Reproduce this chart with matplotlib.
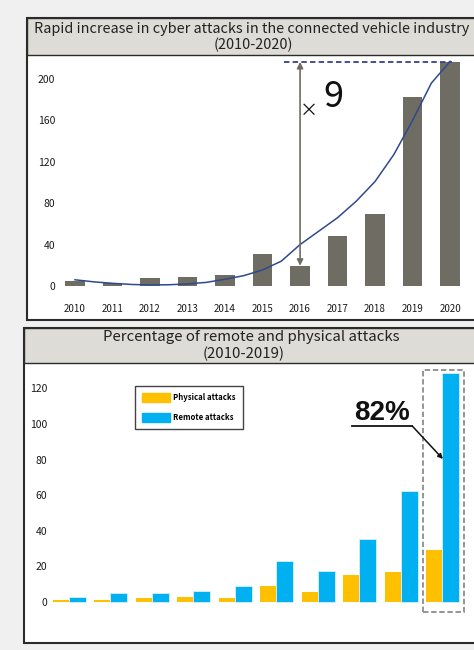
import matplotlib
matplotlib.use('Agg')
import matplotlib.pyplot as plt
from matplotlib.patches import Rectangle, Patch
import numpy as np

plt.rcParams['font.family'] = ['Noto Sans CJK JP', 'DejaVu Sans']

# top chart: cyber attacks per year
years = [2010, 2011, 2012, 2013, 2014, 2015, 2016, 2017, 2018, 2019, 2020]
attacks = [5, 3, 8, 9, 11, 31, 19, 48, 70, 183, 216]
# trend line (half-year steps)
trend_x = [2010, 2010.5, 2011, 2011.5, 2012, 2012.5, 2013, 2013.5, 2014, 2014.5,
           2015, 2015.5, 2016, 2016.5, 2017, 2017.5, 2018, 2018.5, 2019, 2019.5, 2020]
trend_y = [6, 4, 2.6, 1.5, 1, 1.2, 2, 3.5, 6.5, 10,
           15.5, 24, 40, 53, 66, 82, 101, 127, 160, 196, 217]

# bottom chart: remote vs physical
groups = list(range(2010, 2020))
physical = [1, 1, 2, 2.5, 2, 8.5, 5.5, 15, 16.5, 29]
remote = [2.5, 5, 5, 6, 8.5, 23, 17, 35, 62, 129]

W, H = 474, 650
fig = plt.figure(figsize=(W / 100, H / 100), dpi=100)
fig.patch.set_facecolor('#f0f0f0')


def rect(x0, y0, x1, y1):
    return [x0 / W, 1 - y1 / H, (x1 - x0) / W, (y1 - y0) / H]


# background layer in pixel coords for the panel frames
bg = fig.add_axes([0, 0, 1, 1])
bg.set_xlim(0, W)
bg.set_ylim(H, 0)
bg.axis('off')
for (x0, y0, x1, y1, hb) in [(27, 18, 478, 320, 55), (24, 328, 478, 643, 363)]:
    bg.add_patch(Rectangle((x0, y0), x1 - x0, y1 - y0, fc='white', ec='#2b2b2b', lw=1.5))
    bg.add_patch(Rectangle((x0, y0), x1 - x0, hb - y0, fc='#dddcd7', ec='#2b2b2b', lw=1.0))

bg.text(252, 29, 'Rapid increase in cyber attacks in the connected vehicle industry',
        ha='center', va='center', fontsize=10.4, color='#222222')
bg.text(253, 45, '(2010-2020)', ha='center', va='center', fontsize=10.4, color='#222222')
bg.text(251, 337.5, 'Percentage of remote and physical attacks',
        ha='center', va='center', fontsize=10.8, color='#222222')
bg.text(244, 354, '(2010-2019)', ha='center', va='center', fontsize=10.8, color='#222222')

# ---- top chart
ax = fig.add_axes(rect(58, 56, 470, 298))
ax.patch.set_alpha(0)
ax.bar(years, attacks, width=0.52, color='#6f6c64', zorder=2)
ax.plot(trend_x, trend_y, color='#2e4a8c', lw=1.1, zorder=3)
ax.plot([2015.57, 2020.05], [216.5, 216.5], ls=(0, (3, 1.8)), color='#3a3f8e', lw=1.3, zorder=3)
ax.annotate('', xy=(2016, 216.5), xytext=(2016, 19.5),
            arrowprops=dict(arrowstyle='<|-|>', color='#6f6c64', lw=1.2,
                            shrinkA=0, shrinkB=0, mutation_scale=9))
ax.text(2016.24, 169, '×', ha='center', va='center', fontsize=13, color='#111111')
ax.text(2016.88, 183, '9', ha='center', va='center', fontsize=26, color='#111111')
ax.set_xlim(2009.547, 2020.53)
ax.set_ylim(-11.6, 222.2)
ax.set_yticks([0, 40, 80, 120, 160, 200])
ax.set_xticks(years)
ax.tick_params(length=0, labelsize=7.5, colors='#1a1a1a')
ax.tick_params(axis='x', pad=4, labelsize=7)
ax.tick_params(axis='y', pad=2)
for s in ax.spines.values():
    s.set_visible(False)

# ---- bottom chart
ax2 = fig.add_axes(rect(50, 364, 470, 642))
ax2.patch.set_alpha(0)
idx = np.arange(len(groups))
ax2.bar(idx - 0.2, physical, width=0.38, color='#ffc000', zorder=2, label='Physical attacks')
ax2.bar(idx + 0.2, remote, width=0.41, color='#00b0f0', edgecolor='#d8f1fb', lw=0.6,
        zorder=2, label='Remote attacks')
ax2.add_patch(Rectangle((idx[-1] - 0.47, -6), 0.99, 136.5, fill=False, ec='#8c8c8c',
                        lw=1.3, ls=(0, (3, 1.5)), zorder=3))
ax2.text(7.54, 102, '82%', ha='center', va='baseline', fontsize=20, fontweight='bold',
         family='Liberation Sans', color='#111111')
ax2.plot([6.82, 8.27], [98.9, 98.9], color='#111111', lw=1.3)
ax2.annotate('', xy=(9.01, 80.3), xytext=(8.27, 98.9),
             arrowprops=dict(arrowstyle='-|>', color='#111111', lw=1.1,
                             shrinkA=0, shrinkB=0, mutation_scale=7))
ax2.set_xlim(-0.458, 9.663)
ax2.set_ylim(-22.8, 133.8)
ax2.set_yticks([0, 20, 40, 60, 80, 100, 120])
ax2.set_xticks([])
ax2.tick_params(length=0, labelsize=7.5, colors='#1a1a1a', pad=2)
for s in ax2.spines.values():
    s.set_visible(False)

handles = [Patch(color='#ffc000'), Patch(color='#00b0f0')]
leg = ax2.legend(handles, ['Physical attacks', 'Remote attacks'],
                 loc='upper left', bbox_to_anchor=(135 / W, 1 - 386 / H),
                 bbox_transform=fig.transFigure, fancybox=False, framealpha=1,
                 edgecolor='#444444', prop={'size': 5.6, 'weight': 'bold'},
                 handlelength=3.6, handleheight=1.3, labelspacing=1.4,
                 borderpad=0.9, handletextpad=0.4, borderaxespad=0)
leg.get_frame().set_linewidth(1.0)

fig.savefig('out.png', dpi=100, facecolor=fig.get_facecolor())
